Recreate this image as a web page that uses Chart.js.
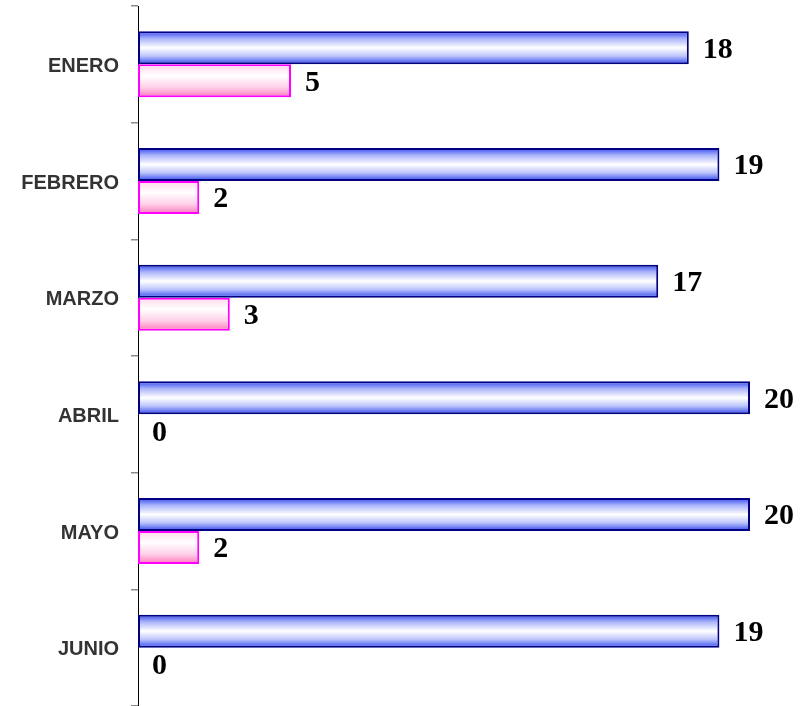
<!DOCTYPE html>
<html>
<head>
<meta charset="utf-8">
<script src="https://cdn.jsdelivr.net/npm/chart.js@4"></script>
<style>
  html, body { margin: 0; padding: 0; background: #fff; }
  #wrap { width: 800px; height: 706px; }
</style>
</head>
<body>
<div id="wrap"><canvas id="c"></canvas></div>
<script>
// data
const months = ['ENERO', 'FEBRERO', 'MARZO', 'ABRIL', 'MAYO', 'JUNIO'];
const blueValues = [18, 19, 17, 20, 20, 19];
const pinkValues = [5, 2, 3, 0, 2, 0];

const catPct = 0.566;

// vertical gradient for one bar, computed from the y scale
function barGradient(context) {
  const chart = context.chart;
  const y = chart.scales.y;
  const fallback = context.datasetIndex === 0 ? '#8090f8' : '#ffc0e0';
  if (!y || context.dataIndex === undefined) return fallback;
  const c = y.getPixelForValue(context.dataIndex);
  const half = (y.height / months.length) * catPct / 2;
  if (!isFinite(c) || !isFinite(half) || half <= 0) return fallback;
  const top = context.datasetIndex === 0 ? c - half : c;
  const g = chart.ctx.createLinearGradient(0, top, 0, top + half);
  if (context.datasetIndex === 0) {
    g.addColorStop(0, '#3048ee');
    g.addColorStop(0.22, '#aab4fa');
    g.addColorStop(0.5, '#ffffff');
    g.addColorStop(0.75, '#bcc4fb');
    g.addColorStop(1, '#3048ee');
  } else {
    g.addColorStop(0, '#ffd6ea');
    g.addColorStop(0.35, '#ffffff');
    g.addColorStop(0.7, '#ffd0e8');
    g.addColorStop(1, '#ff78bc');
  }
  return g;
}

// value labels at the end of the bars
const valueLabels = {
  id: 'valueLabels',
  afterDatasetsDraw(chart) {
    const ctx = chart.ctx;
    ctx.save();
    ctx.font = 'bold 30px "Liberation Serif", serif';
    ctx.fillStyle = '#000';
    ctx.textAlign = 'left';
    ctx.textBaseline = 'middle';
    chart.data.datasets.forEach((ds, di) => {
      chart.getDatasetMeta(di).data.forEach((bar, j) => {
        ctx.fillText(String(ds.data[j]), bar.x + 14, bar.y + 2);
      });
    });
    ctx.restore();
  }
};

new Chart(document.getElementById('c'), {
  type: 'bar',
  data: {
    labels: months,
    datasets: [
      {
        label: 'A',
        data: blueValues,
        backgroundColor: barGradient,
        borderColor: '#000080',
        borderWidth: 2,
        borderSkipped: false
      },
      {
        label: 'B',
        data: pinkValues,
        backgroundColor: barGradient,
        borderColor: '#ff00ff',
        borderWidth: 2,
        borderSkipped: false
      }
    ]
  },
  options: {
    indexAxis: 'y',
    responsive: true,
    maintainAspectRatio: false,
    animation: false,
    layout: { padding: { top: 6, right: 50, bottom: 0, left: 0 } },
    plugins: {
      legend: { display: false },
      tooltip: { enabled: false }
    },
    datasets: {
      bar: { categoryPercentage: catPct, barPercentage: 1 }
    },
    scales: {
      x: {
        display: false,
        min: 0,
        max: 20
      },
      y: {
        afterFit: s => { s.width = 138; s.paddingTop = 0; s.paddingBottom = 0; },
        border: { display: true, color: '#000', width: 1 },
        grid: {
          drawOnChartArea: false,
          drawTicks: true,
          tickLength: 7,
          lineWidth: 1.5,
          color: '#8c8c8c'
        },
        ticks: {
          color: '#333',
          padding: 12,
          labelOffset: 2,
          font: { family: '"Liberation Sans", Arial, sans-serif', size: 20, weight: 'bold' }
        }
      }
    }
  },
  plugins: [valueLabels]
});
</script>
</body>
</html>
